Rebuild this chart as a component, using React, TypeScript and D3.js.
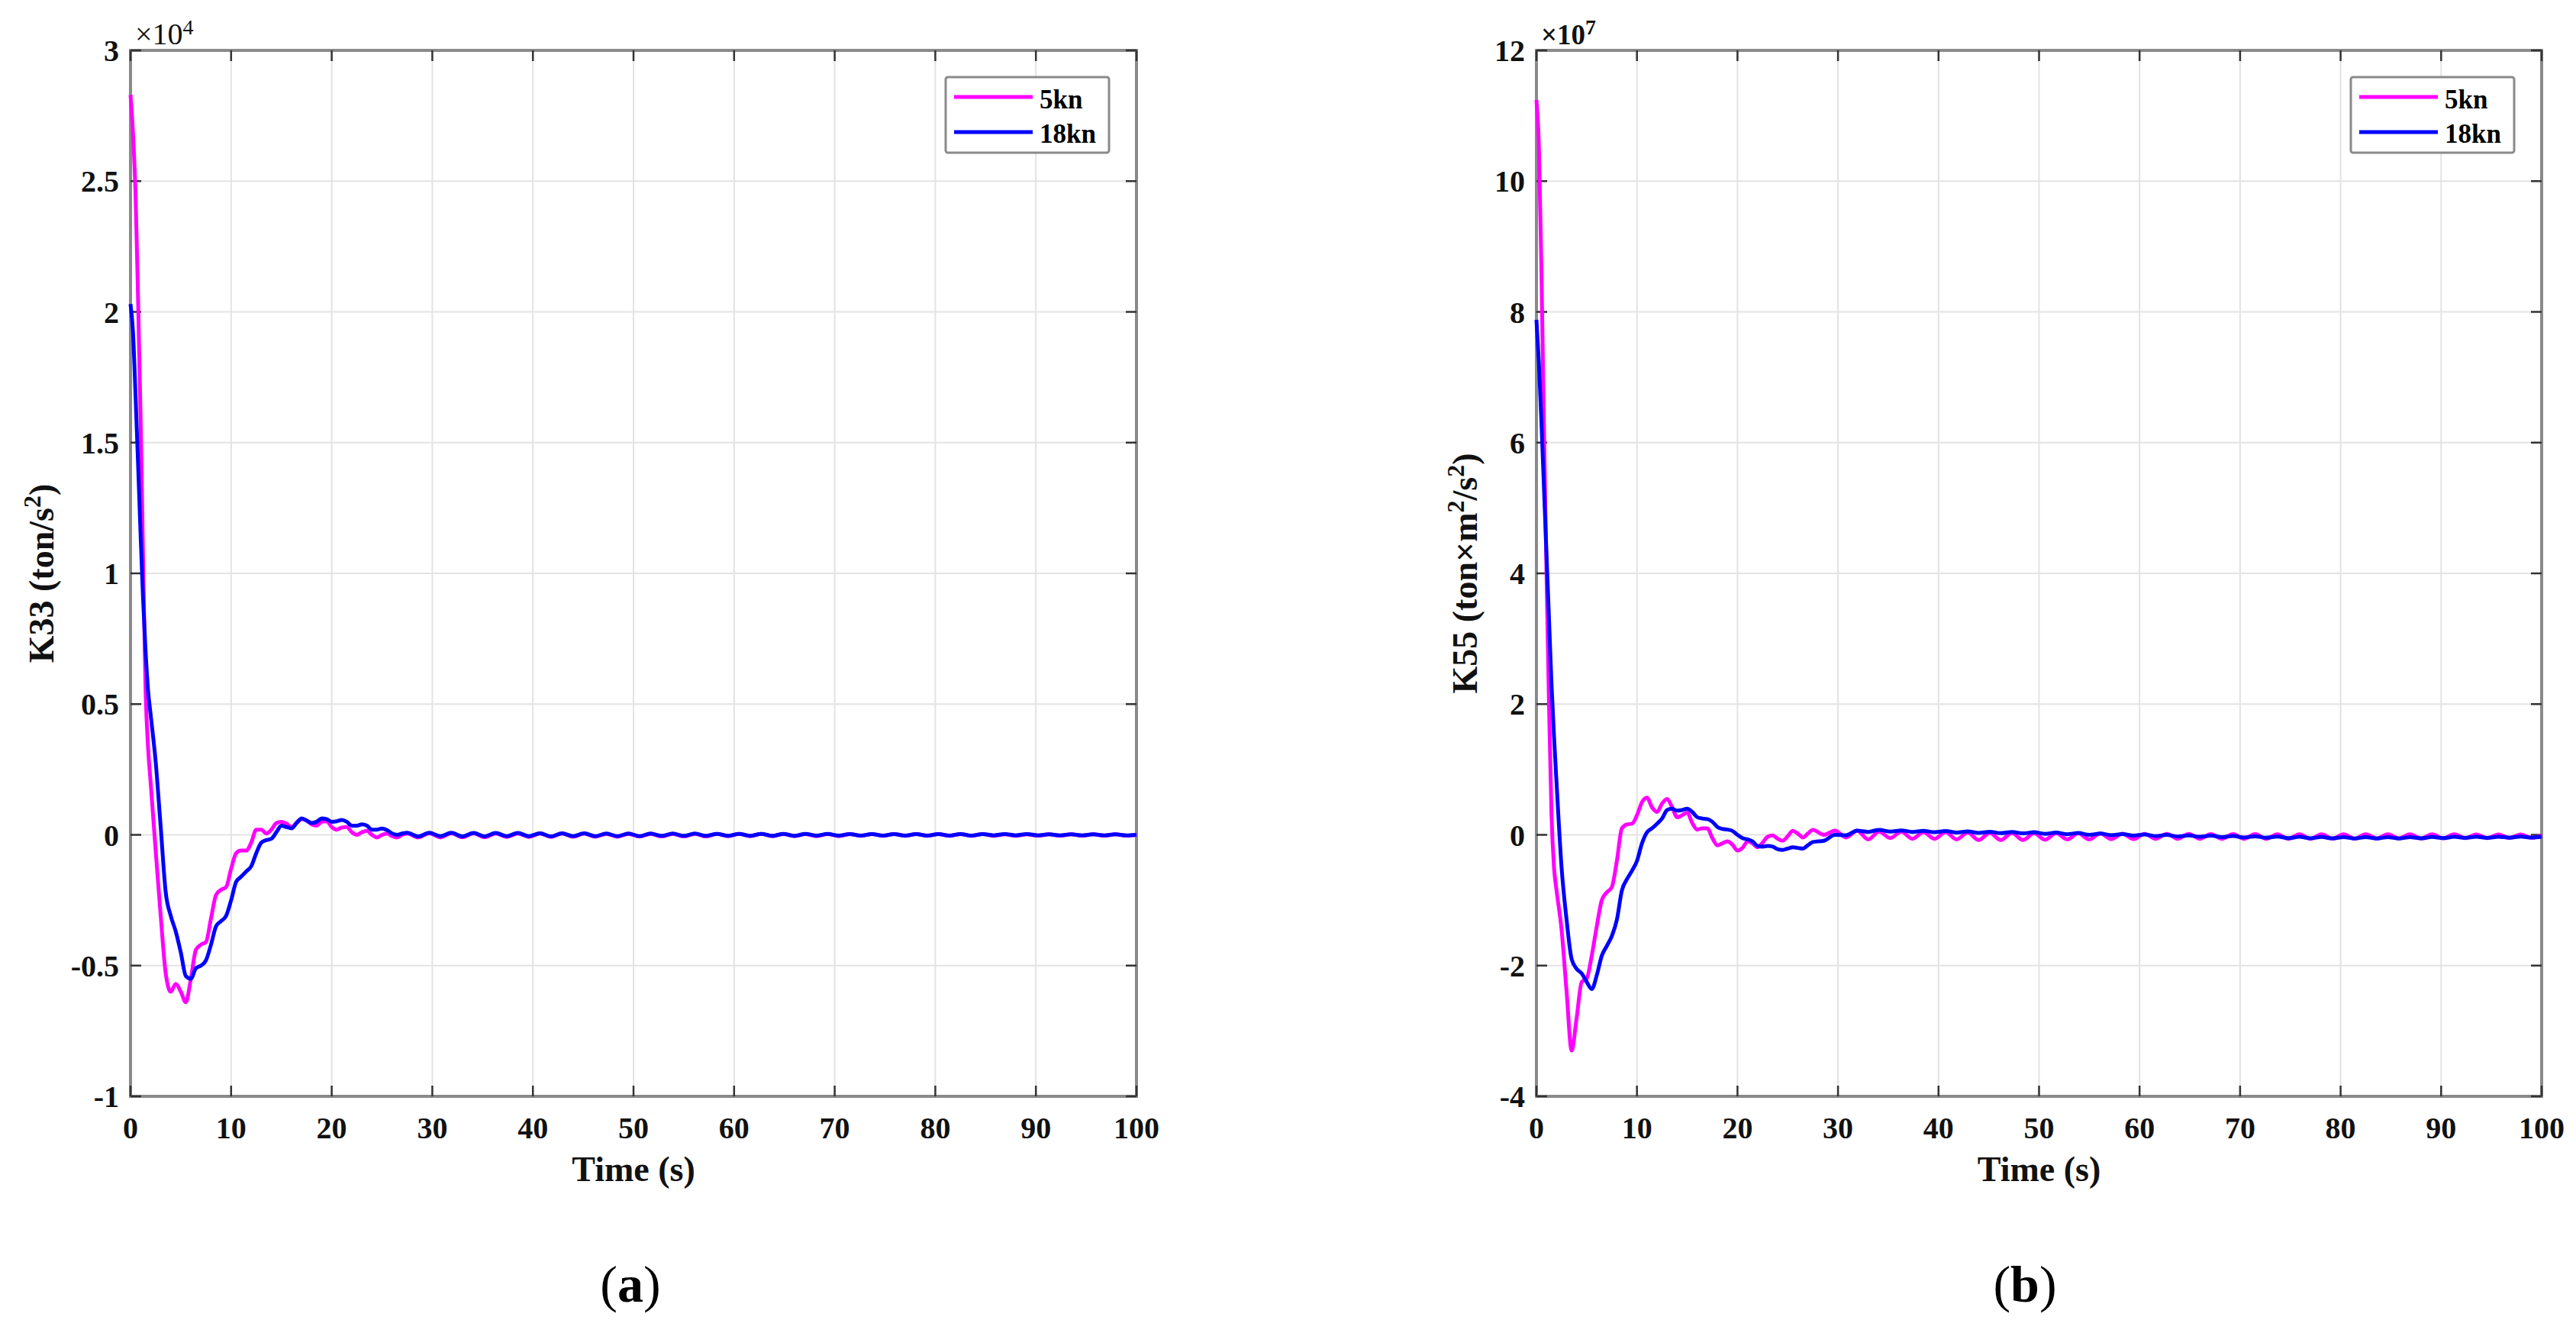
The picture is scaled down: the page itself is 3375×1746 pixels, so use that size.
import React, { useEffect } from "react";
import * as d3 from "d3";

// ---------- DATA ----------
const TIME_EARLY = [
  0, 0.25, 0.5, 0.75, 1, 1.25, 1.5, 1.75, 2, 2.5,
  3, 3.5, 4, 4.5, 5, 5.5, 6, 6.5, 7, 7.5,
  8, 8.5, 9, 9.5, 10, 10.5, 11, 11.5, 12, 12.5,
  13, 13.5, 14, 14.5, 15, 15.5, 16, 16.5, 17, 17.5,
  18, 18.5, 19, 19.5, 20, 20.5, 21, 21.5, 22, 22.5,
  23, 23.5, 24, 24.5, 25, 25.5, 26, 26.5, 27, 27.5,
];
const TIME_TAIL = [
  28.6, 29.7, 30.8, 31.9, 33, 34.1, 35.2, 36.3, 37.4, 38.5,
  39.6, 40.7, 41.8, 42.9, 44, 45.1, 46.2, 47.3, 48.4, 49.5,
  50.6, 51.7, 52.8, 53.9, 55, 56.1, 57.2, 58.3, 59.4, 60.5,
  61.6, 62.7, 63.8, 64.9, 66, 67.1, 68.2, 69.3, 70.4, 71.5,
  72.6, 73.7, 74.8, 75.9, 77, 78.1, 79.2, 80.3, 81.4, 82.5,
  83.6, 84.7, 85.8, 86.9, 88, 89.1, 90.2, 91.3, 92.4, 93.5,
  94.6, 95.7, 96.8, 97.9, 99, 100,
];

// K33 (x1e4 ton/s^2)
const K33_5KN_EARLY = [
  2.83, 2.68, 2.45, 2.05, 1.6, 1.05, 0.55, 0.33, 0.2, -0.06,
  -0.31, -0.53, -0.6, -0.57, -0.6, -0.64, -0.55, -0.44, -0.42, -0.41,
  -0.32, -0.23, -0.21, -0.2, -0.13, -0.07, -0.06, -0.06, -0.03, 0.02,
  0.02, 0.005, 0.02, 0.045, 0.05, 0.043, 0.03, 0.045, 0.06, 0.055,
  0.04, 0.035, 0.05, 0.052, 0.03, 0.02, 0.028, 0.03, 0.01, 0.0,
  0.01, 0.015, 0.0, -0.01, 0.0, 0.005, -0.005, -0.01, 0.0, 0.005,
];
const K33_5KN_TAIL = [
  -0.01, 0.006, -0.01, 0.006, -0.009, 0.006, -0.009, 0.005, -0.008, 0.005,
  -0.008, 0.005, -0.008, 0.005, -0.007, 0.005, -0.007, 0.004, -0.007, 0.004,
  -0.006, 0.004, -0.006, 0.004, -0.006, 0.004, -0.006, 0.004, -0.005, 0.004,
  -0.005, 0.004, -0.005, 0.003, -0.005, 0.003, -0.005, 0.003, -0.005, 0.003,
  -0.004, 0.003, -0.004, 0.003, -0.004, 0.003, -0.004, 0.003, -0.004, 0.003,
  -0.004, 0.003, -0.004, 0.002, -0.004, 0.002, -0.003, 0.002, -0.003, 0.002,
  -0.003, 0.002, -0.003, 0.002, -0.003, 0.0,
];
const K33_18KN_EARLY = [
  2.03, 1.92, 1.68, 1.42, 1.15, 0.9, 0.7, 0.55, 0.46, 0.28,
  0.03, -0.22, -0.31, -0.37, -0.45, -0.54, -0.55, -0.51, -0.5, -0.48,
  -0.42, -0.35, -0.33, -0.31, -0.25, -0.18, -0.16, -0.14, -0.12, -0.07,
  -0.03, -0.02, -0.015, 0.01, 0.035, 0.03, 0.025, 0.045, 0.063, 0.055,
  0.045, 0.05, 0.063, 0.06, 0.05, 0.052, 0.057, 0.05, 0.035, 0.035,
  0.04, 0.035, 0.02, 0.02, 0.024, 0.018, 0.005, 0.0, 0.005, 0.008,
];
const K33_18KN_TAIL = [
  -0.006, 0.008, -0.005, 0.008, -0.006, 0.007, -0.006, 0.007, -0.005, 0.007,
  -0.005, 0.006, -0.006, 0.006, -0.005, 0.006, -0.005, 0.005, -0.005, 0.005,
  -0.005, 0.005, -0.004, 0.005, -0.004, 0.005, -0.004, 0.004, -0.004, 0.004,
  -0.004, 0.004, -0.004, 0.004, -0.004, 0.004, -0.003, 0.004, -0.003, 0.003,
  -0.003, 0.003, -0.003, 0.003, -0.003, 0.003, -0.003, 0.003, -0.003, 0.003,
  -0.003, 0.003, -0.002, 0.003, -0.002, 0.003, -0.002, 0.002, -0.002, 0.002,
  -0.002, 0.002, -0.002, 0.002, -0.002, 0.0,
];

// K55 (x1e7 ton*m^2/s^2)
const K55_5KN_EARLY = [
  11.24, 10.5, 8.6, 6.2, 4.0, 2.0, 0.3, -0.5, -0.85, -1.45,
  -2.4, -3.3, -2.8, -2.25, -2.2, -1.85, -1.4, -1.0, -0.88, -0.8,
  -0.4, 0.1, 0.16, 0.17, 0.3, 0.5, 0.57, 0.42, 0.35, 0.48,
  0.55, 0.42, 0.27, 0.3, 0.34, 0.18, 0.08, 0.1, 0.1, -0.05,
  -0.16, -0.13, -0.1, -0.15, -0.24, -0.2, -0.1, -0.13, -0.19, -0.12,
  -0.03, -0.01, -0.06, -0.09, -0.02, 0.06, 0.02, -0.04, 0.02, 0.075,
];
const K55_5KN_TAIL = [
  0.0, 0.065, -0.04, 0.065, -0.07, 0.05, -0.05, 0.05, -0.06, 0.04,
  -0.06, 0.04, -0.07, 0.035, -0.08, 0.03, -0.08, 0.03, -0.08, 0.025,
  -0.075, 0.025, -0.07, 0.022, -0.07, 0.02, -0.065, 0.018, -0.065, 0.016,
  -0.06, 0.015, -0.06, 0.015, -0.06, 0.012, -0.06, 0.012, -0.06, 0.012,
  -0.06, 0.01, -0.06, 0.01, -0.06, 0.01, -0.058, 0.01, -0.058, 0.01,
  -0.056, 0.01, -0.055, 0.008, -0.055, 0.008, -0.052, 0.008, -0.05, 0.006,
  -0.05, 0.006, -0.048, 0.005, -0.045, -0.01,
];
const K55_18KN_EARLY = [
  7.88, 7.2, 6.3, 5.3, 4.3, 3.3, 2.3, 1.5, 0.8, -0.5,
  -1.3, -1.9, -2.05, -2.12, -2.25, -2.36, -2.15, -1.85, -1.7, -1.55,
  -1.3, -0.85, -0.68, -0.55, -0.4, -0.13, 0.04, 0.1, 0.17, 0.25,
  0.38, 0.4, 0.37, 0.38, 0.4, 0.35, 0.27, 0.25, 0.24, 0.2,
  0.12, 0.09, 0.08, 0.06, 0.0, -0.05, -0.07, -0.1, -0.17, -0.18,
  -0.17, -0.18, -0.22, -0.23, -0.21, -0.19, -0.2, -0.21, -0.16, -0.11,
];
const K55_18KN_TAIL = [
  -0.09, 0.0, -0.005, 0.065, 0.045, 0.077, 0.05, 0.068, 0.045, 0.062,
  0.04, 0.058, 0.035, 0.052, 0.03, 0.048, 0.025, 0.045, 0.022, 0.04,
  0.015, 0.035, 0.01, 0.028, 0.0, 0.02, -0.005, 0.012, -0.012, 0.005,
  -0.02, 0.0, -0.025, -0.008, -0.03, -0.012, -0.035, -0.018, -0.04, -0.022,
  -0.045, -0.025, -0.05, -0.03, -0.052, -0.032, -0.054, -0.035, -0.055, -0.035,
  -0.055, -0.035, -0.055, -0.035, -0.053, -0.033, -0.05, -0.03, -0.048, -0.03,
  -0.046, -0.028, -0.044, -0.026, -0.042, -0.03,
];

const TIME = [...TIME_EARLY, ...TIME_TAIL];
const K33_5KN = [...K33_5KN_EARLY, ...K33_5KN_TAIL];
const K33_18KN = [...K33_18KN_EARLY, ...K33_18KN_TAIL];
const K55_5KN = [...K55_5KN_EARLY, ...K55_5KN_TAIL];
const K55_18KN = [...K55_18KN_EARLY, ...K55_18KN_TAIL];

const X_TICKS = [0, 10, 20, 30, 40, 50, 60, 70, 80, 90, 100];
const Y_TICKS_A = [-1, -0.5, 0, 0.5, 1, 1.5, 2, 2.5, 3];
const Y_TICKS_B = [-4, -2, 0, 2, 4, 6, 8, 10, 12];
const LEGEND = ["5kn", "18kn"];
const COLORS = ["#ff00ff", "#0000ff"];

const FONT = "'Liberation Serif', 'Times New Roman', serif";

type PanelProps = {
  left: number;
  right: number;
  top: number;
  bottom: number;
  yDomain: [number, number];
  yTicks: number[];
  series: number[][];
  exponent: string;
  expBold: boolean;
  yLabel: React.ReactNode;
  yLabelX: number;
  caption: string;
  captionX: number;
};

function Panel(p: PanelProps) {
  const xs = d3.scaleLinear().domain([0, 100]).range([p.left, p.right]);
  const ys = d3.scaleLinear().domain(p.yDomain).range([p.bottom, p.top]);
  const line = d3
    .line<[number, number]>()
    .x((d) => xs(d[0]))
    .y((d) => ys(d[1]))
    .curve(d3.curveMonotoneX);
  const tickLen = 14;
  const midX = (p.left + p.right) / 2;
  const midY = (p.top + p.bottom) / 2;
  return (
    <g fontFamily={FONT}>
      {/* grid */}
      {X_TICKS.map((t) => (
        <line key={"gx" + t} x1={xs(t)} x2={xs(t)} y1={p.top} y2={p.bottom} stroke="#e3e3e3" strokeWidth={2} />
      ))}
      {p.yTicks.map((t) => (
        <line key={"gy" + t} x1={p.left} x2={p.right} y1={ys(t)} y2={ys(t)} stroke="#e3e3e3" strokeWidth={2} />
      ))}
      {/* box */}
      <rect x={p.left} y={p.top} width={p.right - p.left} height={p.bottom - p.top} fill="none" stroke="#8a8a8a" strokeWidth={4} />
      {/* ticks */}
      {X_TICKS.map((t) => (
        <g key={"tx" + t}>
          <line x1={xs(t)} x2={xs(t)} y1={p.bottom} y2={p.bottom - tickLen} stroke="#333" strokeWidth={2.5} />
          <line x1={xs(t)} x2={xs(t)} y1={p.top} y2={p.top + tickLen} stroke="#333" strokeWidth={2.5} />
          <text x={xs(t)} y={p.bottom + 55} textAnchor="middle" fontSize={40} fontWeight="bold" fill="#111">
            {t}
          </text>
        </g>
      ))}
      {p.yTicks.map((t) => (
        <g key={"ty" + t}>
          <line x1={p.left} x2={p.left + tickLen} y1={ys(t)} y2={ys(t)} stroke="#333" strokeWidth={2.5} />
          <line x1={p.right} x2={p.right - tickLen} y1={ys(t)} y2={ys(t)} stroke="#333" strokeWidth={2.5} />
          <text x={p.left - 15} y={ys(t) + 14} textAnchor="end" fontSize={40} fontWeight="bold" fill="#111">
            {t}
          </text>
        </g>
      ))}
      {/* data */}
      {p.series.map((vals, i) => (
        <path
          key={"s" + i}
          d={line(d3.zip(TIME, vals) as [number, number][]) || ""}
          fill="none"
          stroke={COLORS[i]}
          strokeWidth={5}
          strokeLinejoin="round"
        />
      ))}
      {/* exponent */}
      <text x={p.left + 6} y={p.top - 8} fontSize={p.expBold ? 37 : 40} fontWeight={p.expBold ? "bold" : "normal"} fill="#111">
        ×10
        <tspan dy={-13} fontSize={28}>
          {p.exponent}
        </tspan>
      </text>
      {/* legend */}
      <rect x={p.right - 250} y={p.top + 35} width={214} height={99} rx={3} fill="#fff" stroke="#8a8a8a" strokeWidth={3} />
      {LEGEND.map((name, i) => (
        <g key={"lg" + i}>
          <line x1={p.right - 239} x2={p.right - 136} y1={p.top + 61 + i * 46} y2={p.top + 61 + i * 46} stroke={COLORS[i]} strokeWidth={5} />
          <text x={p.right - 127} y={p.top + 76 + i * 45} fontSize={35} fontWeight="bold" fill="#000">
            {name}
          </text>
        </g>
      ))}
      {/* x label */}
      <text x={midX} y={p.bottom + 111} textAnchor="middle" fontSize={46} fontWeight="bold" fill="#111">
        Time (s)
      </text>
      {/* y label */}
      <text transform={`translate(${p.yLabelX},${midY}) rotate(-90)`} textAnchor="middle" fontSize={46} fontWeight="bold" fill="#111">
        {p.yLabel}
      </text>
      {/* caption */}
      <text x={p.captionX} y={1705} textAnchor="middle" fontSize={68} fill="#000">
        (<tspan fontWeight="bold">{p.caption}</tspan>)
      </text>
    </g>
  );
}

export default function App() {
  useEffect(() => {
    document.body.style.margin = "0";
    document.body.style.overflow = "hidden";
  }, []);
  return (
    <svg
      width={3375}
      height={1746}
      viewBox="0 0 3375 1746"
      style={{ position: "absolute", left: 0, top: 0, background: "#fff", display: "block" }}
    >
      <rect x={0} y={0} width={3375} height={1746} fill="#fff" />
      <Panel
        left={171}
        right={1489}
        top={66}
        bottom={1436}
        yDomain={[-1, 3]}
        yTicks={Y_TICKS_A}
        series={[K33_5KN, K33_18KN]}
        exponent="4"
        expBold={false}
        yLabel={
          <>
            K33 (ton/s
            <tspan dy={-17} fontSize={32}>
              2
            </tspan>
            <tspan dy={17}>)</tspan>
          </>
        }
        yLabelX={70}
        caption="a"
        captionX={826}
      />
      <Panel
        left={2013}
        right={3330}
        top={66}
        bottom={1436}
        yDomain={[-4, 12]}
        yTicks={Y_TICKS_B}
        series={[K55_5KN, K55_18KN]}
        exponent="7"
        expBold={true}
        yLabel={
          <>
            K55 (ton×m
            <tspan dy={-17} fontSize={32}>
              2
            </tspan>
            <tspan dy={17}>/s</tspan>
            <tspan dy={-17} fontSize={32}>
              2
            </tspan>
            <tspan dy={17}>)</tspan>
          </>
        }
        yLabelX={1935}
        caption="b"
        captionX={2653}
      />
    </svg>
  );
}
